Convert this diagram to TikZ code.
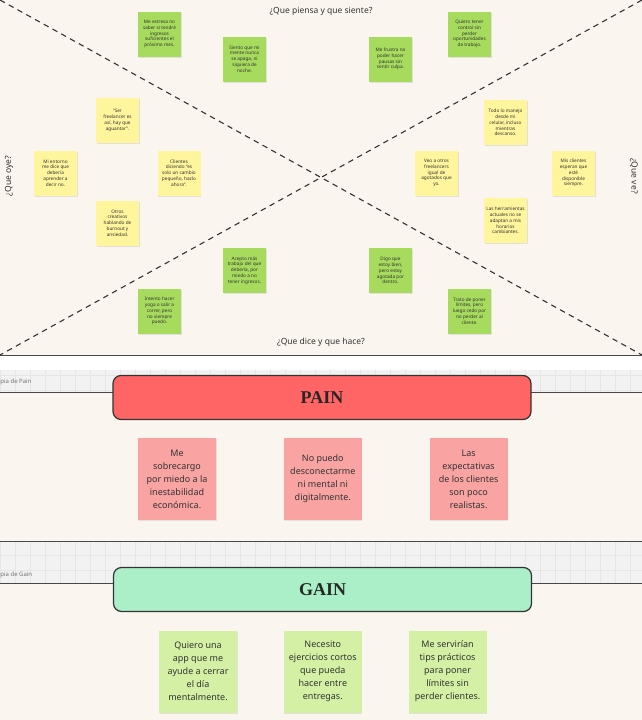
\documentclass[tikz,border=0pt]{standalone}
\usepackage{fontspec}
\setmainfont{Noto Sans}
\newfontfamily\titlefont{Liberation Serif}
\usetikzlibrary{positioning,shadows}

\definecolor{paper}{HTML}{FAF6EF}
\definecolor{band}{HTML}{F2F2F2}
\definecolor{gridgray}{HTML}{E6E6E6}
\definecolor{stickgreen}{HTML}{A6DB5E}
\definecolor{stickyellow}{HTML}{FFF59C}
\definecolor{stickpink}{HTML}{F9A3A3}
\definecolor{sticklime}{HTML}{D3F0A4}
\definecolor{painred}{HTML}{FF6565}
\definecolor{gainmint}{HTML}{AAEFC7}
\definecolor{ink}{HTML}{333333}

\begin{document}
\begin{tikzpicture}[x=1pt, y=-1pt, thick,
    note/.style = {rectangle, minimum width=43pt, minimum height=45pt, inner sep=1pt, align=center,
                   text=ink, font=\fontsize{4.7}{5.8}\selectfont,
                   drop shadow={opacity=0.18, shadow xshift=0.6pt, shadow yshift=-1pt}},
    greennote/.style = {note, fill=stickgreen},
    yellownote/.style = {note, fill=stickyellow},
    bignote/.style = {note, minimum width=78pt, minimum height=82pt, font=\fontsize{9}{13}\selectfont},
    header/.style = {draw=ink, line width=1.2pt, rounded corners=8pt, minimum width=418pt,
                     minimum height=44pt, text=black!85, font=\titlefont\bfseries\fontsize{18}{20}\selectfont},
    quadrant/.style = {text=ink, font=\fontsize{8.5}{10}\selectfont, inner sep=1pt},
    diag/.style = {draw=ink, line width=1.1pt, dash pattern=on 5.5pt off 4.5pt},
    rule/.style = {draw=ink!90, line width=1pt},
    tag/.style = {anchor=west, inner sep=0pt, text=black!55, font=\fontsize{6}{7}\selectfont}]

	\useasboundingbox (0,0) rectangle (642,720);
	\fill[paper] (0,0) rectangle (642,720);

	% empathy map
	\coordinate (tl) at (0,0);
	\coordinate (tr) at (642,0);
	\coordinate (bl) at (0,355);
	\coordinate (br) at (642,355);
	\draw[diag] (tl) -- (br);
	\draw[diag] (tr) -- (bl);
	\draw[rule] (bl) -- (br);

	\node[quadrant] (think) at (321,11) {¿Que piensa y que siente?};
	\node[quadrant] (say) at (321,342) {¿Que dice y que hace?};
	\node[quadrant, rotate=90] (hear) at (9,176) {¿Que oye?};
	\node[quadrant, rotate=-90] (see) at (634,176) {¿Que ve?};

	\node[greennote] (1) at (159.5,34) {Me estresa no\\saber si tendré\\ingresos\\suficientes el\\próximo mes.};
	\node[greennote] (2) at (244.5,59) {Siento que mi\\mente nunca\\se apaga, ni\\siquiera de\\noche.};
	\node[greennote] (3) at (390.5,59) {Me frustra no\\poder hacer\\pausas sin\\sentir culpa.};
	\node[greennote] (4) at (469.5,34) {Quiero tener\\control sin\\perder\\oportunidades\\de trabajo.};

	\node[yellownote] (5) at (117.5,120.5) {“Ser\\freelancer es\\así, hay que\\aguantar”.};
	\node[yellownote] (6) at (55.5,173) {Mi entorno\\me dice que\\debería\\aprender a\\decir no.};
	\node[yellownote] (7) at (179,173) {Clientes\\diciendo “es\\solo un cambio\\pequeño, hazlo\\ahora”.};
	\node[yellownote] (8) at (117.5,223) {Otros\\creativos\\hablando de\\burnout y\\ansiedad.};

	\node[yellownote] (9) at (505.5,122.5) {Todo lo manejo\\desde mi\\celular, incluso\\mientras\\descanso.};
	\node[yellownote] (10) at (436.5,173) {Veo a otros\\freelancers\\igual de\\agotados que\\yo.};
	\node[yellownote] (11) at (573.5,173) {Mis clientes\\esperan que\\esté\\disponible\\siempre.};
	\node[yellownote] (12) at (505.5,220.5) {Las herramientas\\actuales no se\\adaptan a mis\\horarios\\cambiantes.};

	\node[greennote] (13) at (159.5,311) {Intento hacer\\yoga o salir a\\correr, pero\\no siempre\\puedo.};
	\node[greennote] (14) at (244.5,270.5) {Acepto más\\trabajo del que\\debería, por\\miedo a no\\tener ingresos.};
	\node[greennote] (15) at (390.5,270.5) {Digo que\\estoy bien,\\pero estoy\\agotada por\\dentro.};
	\node[greennote] (16) at (469.5,311) {Trato de poner\\límites, pero\\luego cedo por\\no perder al\\cliente.};

	% pain
	\fill[white] (0,356) rectangle (642,370);
	\fill[band] (0,370) rectangle (642,392);
	\draw[gridgray, line width=0.3pt, step=15pt] (0,370) grid (642,392);
	\draw[rule] (0,392) -- (642,392);
	\node[tag] (painlabel) at (0,382) {pia de Pain};

	\node[header, fill=painred] (pain) at (322,397.5) {PAIN};

	\node[bignote, fill=stickpink] (p1) at (177,479) {Me\\sobrecargo\\por miedo a la\\inestabilidad\\económica.};
	\node[bignote, fill=stickpink] (p2) [right=67pt of p1] {No puedo\\desconectarme\\ni mental ni\\digitalmente.};
	\node[bignote, fill=stickpink] (p3) [right=67pt of p2] {Las\\expectativas\\de los clientes\\son poco\\realistas.};

	% gain
	\fill[band] (0,541) rectangle (642,583);
	\draw[gridgray, line width=0.3pt, step=15pt] (0,541) grid (642,583);
	\draw[rule] (0,541) -- (642,541);
	\draw[rule] (0,583) -- (642,583);
	\node[tag] (gainlabel) at (0,575) {pia de Gain};

	\node[header, fill=gainmint] (gain) at (322.5,589.5) {GAIN};

	\node[bignote, fill=sticklime] (g1) at (198,671.5) {Quiero una\\app que me\\ayude a cerrar\\el día\\mentalmente.};
	\node[bignote, fill=sticklime] (g2) [right=46pt of g1] {Necesito\\ejercicios cortos\\que pueda\\hacer entre\\entregas.};
	\node[bignote, fill=sticklime] (g3) [right=46pt of g2] {Me servirían\\tips prácticos\\para poner\\límites sin\\perder clientes.};
\end{tikzpicture}
\end{document}
